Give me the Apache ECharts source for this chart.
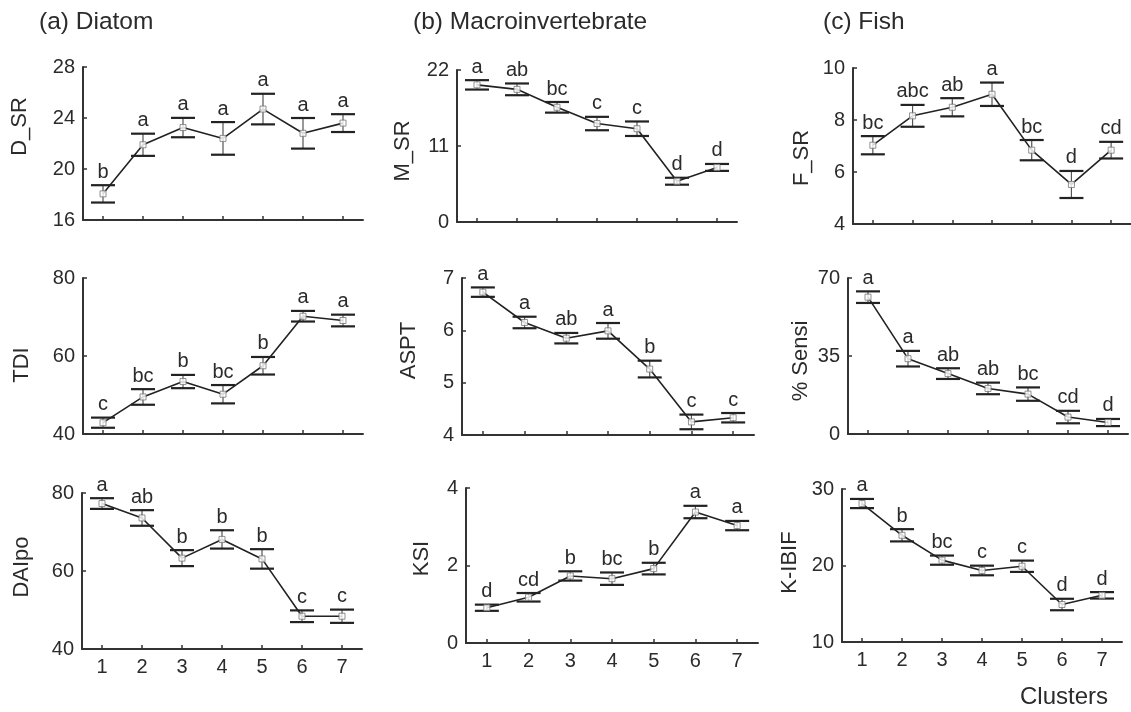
<!DOCTYPE html>
<html>
<head>
<meta charset="utf-8">
<script src="https://cdn.jsdelivr.net/npm/echarts@6/dist/echarts.min.js"></script>
<style>
html,body{margin:0;padding:0;background:#fff;}
#chart{width:1131px;height:712px;}
</style>
</head>
<body>
<div id="chart"></div>
<script>
// ---- data ----
var clusters = ['1','2','3','4','5','6','7'];

var dsrMean = [18.05, 21.9, 23.25, 22.4, 24.7, 22.8, 23.6];
var dsrErr  = [0.68, 0.87, 0.76, 1.28, 1.2, 1.2, 0.7];
var dsrLet  = ['b','a','a','a','a','a','a'];

var tdiMean = [42.9, 49.5, 53.45, 50.2, 57.5, 70.2, 69.1];
var tdiErr  = [1.3, 2.0, 1.7, 2.35, 2.25, 1.36, 1.5];
var tdiLet  = ['c','bc','b','bc','b','a','a'];

var daiMean = [77.3, 73.6, 63.3, 68.1, 63.1, 48.4, 48.4];
var daiErr  = [1.37, 2.0, 2.05, 2.35, 2.5, 1.5, 1.7];
var daiLet  = ['a','ab','b','b','b','c','c'];

var msrMean = [19.85, 19.2, 16.6, 14.25, 13.5, 5.9, 7.9];
var msrErr  = [0.68, 0.85, 0.77, 0.97, 1.05, 0.5, 0.5];
var msrLet  = ['a','ab','bc','c','c','d','d'];

var asptMean = [6.73, 6.15, 5.85, 5.99, 5.26, 4.25, 4.33];
var asptErr  = [0.09, 0.11, 0.1, 0.15, 0.16, 0.14, 0.09];
var asptLet  = ['a','a','ab','a','b','c','c'];

var ksiMean = [0.91, 1.18, 1.73, 1.66, 1.92, 3.38, 3.03];
var ksiErr  = [0.08, 0.11, 0.12, 0.16, 0.15, 0.16, 0.12];
var ksiLet  = ['d','cd','b','bc','b','a','a'];

var fsrMean = [7.03, 8.16, 8.49, 8.99, 6.84, 5.52, 6.84];
var fsrErr  = [0.35, 0.42, 0.35, 0.45, 0.39, 0.52, 0.32];
var fsrLet  = ['bc','abc','ab','a','bc','d','cd'];

var sensiMean = [61.4, 33.8, 27.1, 20.45, 17.9, 7.6, 5.15];
var sensiErr  = [2.6, 3.5, 2.4, 2.6, 3.0, 2.8, 1.6];
var sensiLet  = ['a','a','ab','ab','bc','cd','d'];

var kibifMean = [28.1, 23.95, 20.7, 19.35, 19.9, 14.9, 16.1];
var kibifErr  = [0.6, 0.8, 0.6, 0.63, 0.74, 0.75, 0.42];
var kibifLet  = ['a','b','bc','c','c','d','d'];

var panelTitles = ['(a) Diatom', '(b) Macroinvertebrate', '(c) Fish'];
var xAxisTitle = 'Clusters';

// ---- panel definitions (layout only) ----
var FONT = '"Liberation Sans", Arial, sans-serif';
var TXT = '#2b2b2b';
var AX = '#333333';

// shift: + moves the axis name down, - moves it up (pixels)
var panels = [
  {name:'D_SR',    mean:dsrMean,   err:dsrErr,   lets:dsrLet,   min:16, max:28, step:4,  g:[83,67,280,153],  bottom:false, gap:52, shift:-17},
  {name:'TDI',     mean:tdiMean,   err:tdiErr,   lets:tdiLet,   min:40, max:80, step:20, g:[83,278,280,156], bottom:false, gap:50, shift:9},
  {name:'DAIpo',   mean:daiMean,   err:daiErr,   lets:daiLet,   min:40, max:80, step:20, g:[82,493,280,156], bottom:true,  gap:49, shift:-4},
  {name:'M_SR',    mean:msrMean,   err:msrErr,   lets:msrLet,   min:0,  max:22, step:11, g:[457,70,280,152], bottom:false, gap:43, shift:5},
  {name:'ASPT',    mean:asptMean,  err:asptErr,  lets:asptLet,  min:4,  max:7,  step:1,  g:[462,278,292,157],bottom:false, gap:42, shift:-6},
  {name:'KSI',     mean:ksiMean,   err:ksiErr,   lets:ksiLet,   min:0,  max:4,  step:2,  g:[466,488,292,155],bottom:true,  gap:33, shift:-7},
  {name:'F_SR',    mean:fsrMean,   err:fsrErr,   lets:fsrLet,   min:4,  max:10, step:2,  g:[853,68,280,156], bottom:false, gap:40, shift:12},
  {name:'% Sensi', mean:sensiMean, err:sensiErr, lets:sensiLet, min:0,  max:70, step:35, g:[848,278,280,156],bottom:false, gap:36, shift:5},
  {name:'K-IBIF',  mean:kibifMean, err:kibifErr, lets:kibifLet, min:10, max:30, step:10, g:[842,489,280,153],bottom:true,  gap:41, shift:-3}
];

var grids = [], xAxes = [], yAxes = [], series = [];
panels.forEach(function(p, i){
  grids.push({left:p.g[0], top:p.g[1], width:p.g[2], height:p.g[3], containLabel:false});
  xAxes.push({
    type:'category', gridIndex:i, data:clusters, boundaryGap:true,
    axisLine:{show:true, lineStyle:{color:AX, width:2}},
    axisTick:{show:true, inside:true, alignWithLabel:true, length:4, lineStyle:{color:AX, width:1.5}},
    axisLabel:{show:p.bottom, color:TXT, fontSize:20, fontFamily:FONT, margin:8},
    splitLine:{show:false}
  });
  var pad = p.shift < 0 ? [0, 0, 0, -2 * p.shift] : [0, 2 * p.shift, 0, 0];
  yAxes.push({
    type:'value', gridIndex:i, min:p.min, max:p.max, interval:p.step,
    name:p.name, nameLocation:'middle', nameRotate:90, nameGap:p.gap,
    nameTextStyle:{color:TXT, fontSize:22, fontFamily:FONT, padding:pad},
    axisLine:{show:true, lineStyle:{color:AX, width:2}},
    axisTick:{show:true, inside:true, length:4, lineStyle:{color:AX, width:1.5}},
    axisLabel:{color:TXT, fontSize:20, fontFamily:FONT, margin:8},
    splitLine:{show:false}
  });
  var errData = p.mean.map(function(m, k){ return [k, m - p.err[k], m + p.err[k]]; });
  series.push({
    type:'line', xAxisIndex:i, yAxisIndex:i, data:p.mean, showSymbol:false,
    lineStyle:{color:'#222', width:1.6}, z:2, silent:true, animation:false
  });
  (function(lets){
    series.push({
      type:'custom', xAxisIndex:i, yAxisIndex:i, data:errData, z:3, silent:true, animation:false,
      renderItem:function(params, api){
        var x = api.value(0);
        var lo = api.coord([x, api.value(1)]);
        var hi = api.coord([x, api.value(2)]);
        var hw = 12;
        return {type:'group', children:[
          {type:'line', shape:{x1:lo[0], y1:lo[1], x2:hi[0], y2:hi[1]}, style:{stroke:'#555', lineWidth:1.2}},
          {type:'line', shape:{x1:lo[0]-hw, y1:lo[1], x2:lo[0]+hw, y2:lo[1]}, style:{stroke:'#222', lineWidth:2.2}},
          {type:'line', shape:{x1:hi[0]-hw, y1:hi[1], x2:hi[0]+hw, y2:hi[1]}, style:{stroke:'#222', lineWidth:2.2}},
          {type:'text', style:{text:lets[params.dataIndex], x:hi[0], y:hi[1]-3, align:'center', verticalAlign:'bottom',
            fill:TXT, fontSize:20, fontFamily:FONT}}
        ]};
      }
    });
  })(p.lets);
  series.push({
    type:'scatter', xAxisIndex:i, yAxisIndex:i, data:p.mean, symbol:'rect', symbolSize:6,
    itemStyle:{color:'#fff', borderColor:'#777', borderWidth:1}, z:4, silent:true, animation:false
  });
});

var chart = echarts.init(document.getElementById('chart'), null, {renderer:'canvas'});
chart.setOption({
  backgroundColor:'#fff',
  animation:false,
  title:[
    {text:panelTitles[0], left:34, top:5, textStyle:{color:TXT, fontSize:24.5, fontWeight:'normal', fontFamily:FONT}},
    {text:panelTitles[1], left:408, top:5, textStyle:{color:TXT, fontSize:24.5, fontWeight:'normal', fontFamily:FONT}},
    {text:panelTitles[2], left:818, top:5, textStyle:{color:TXT, fontSize:24.5, fontWeight:'normal', fontFamily:FONT}}
  ],
  graphic:[
    {type:'text', left:1020, top:685, style:{text:xAxisTitle, fill:TXT, fontSize:24, fontFamily:FONT}}
  ],
  grid:grids, xAxis:xAxes, yAxis:yAxes, series:series
});
</script>
</body>
</html>
